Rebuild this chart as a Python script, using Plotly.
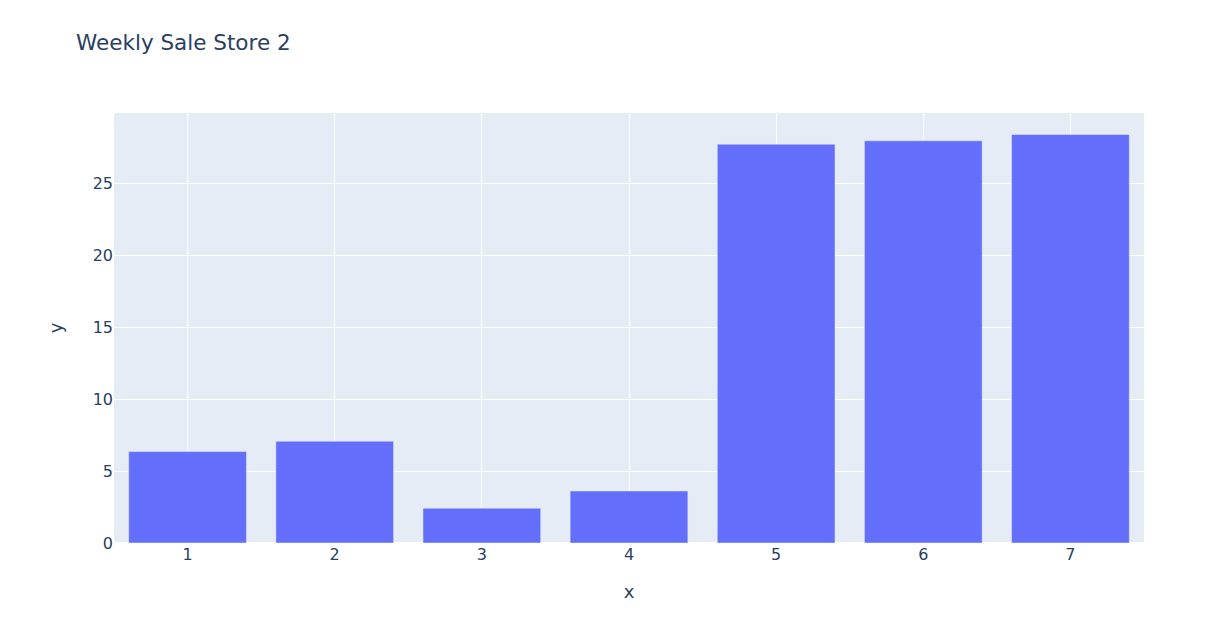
import plotly.graph_objects as go

days = [1, 2, 3, 4, 5, 6, 7]
sales = [6.36, 7.08, 2.42, 3.62, 27.76, 27.99, 28.43]

W, H = 1197, 620
fig = go.Figure(go.Bar(x=days, y=sales, marker_color="#636efa"))
fig.update_layout(
    template="plotly",
    width=W,
    height=H,
    font=dict(family="DejaVu Sans, Verdana, sans-serif"),
    title=dict(text="Weekly Sale Store 2", x=68 / W, xanchor="left",
               y=1 - 34 / H, yanchor="middle", xref="container", yref="container",
               font=dict(size=21.5)),
    margin=dict(l=106, r=61, t=105, b=85),
    xaxis=dict(title=dict(text="x", font=dict(size=18), standoff=22),
               tickmode="linear", dtick=1, automargin=False,
               showgrid=True, gridcolor="white", tickfont=dict(size=16)),
    yaxis=dict(title=dict(text="y", font=dict(size=18), standoff=25),
               automargin=False, tickfont=dict(size=16)),
)
fig.write_html("out.html")
